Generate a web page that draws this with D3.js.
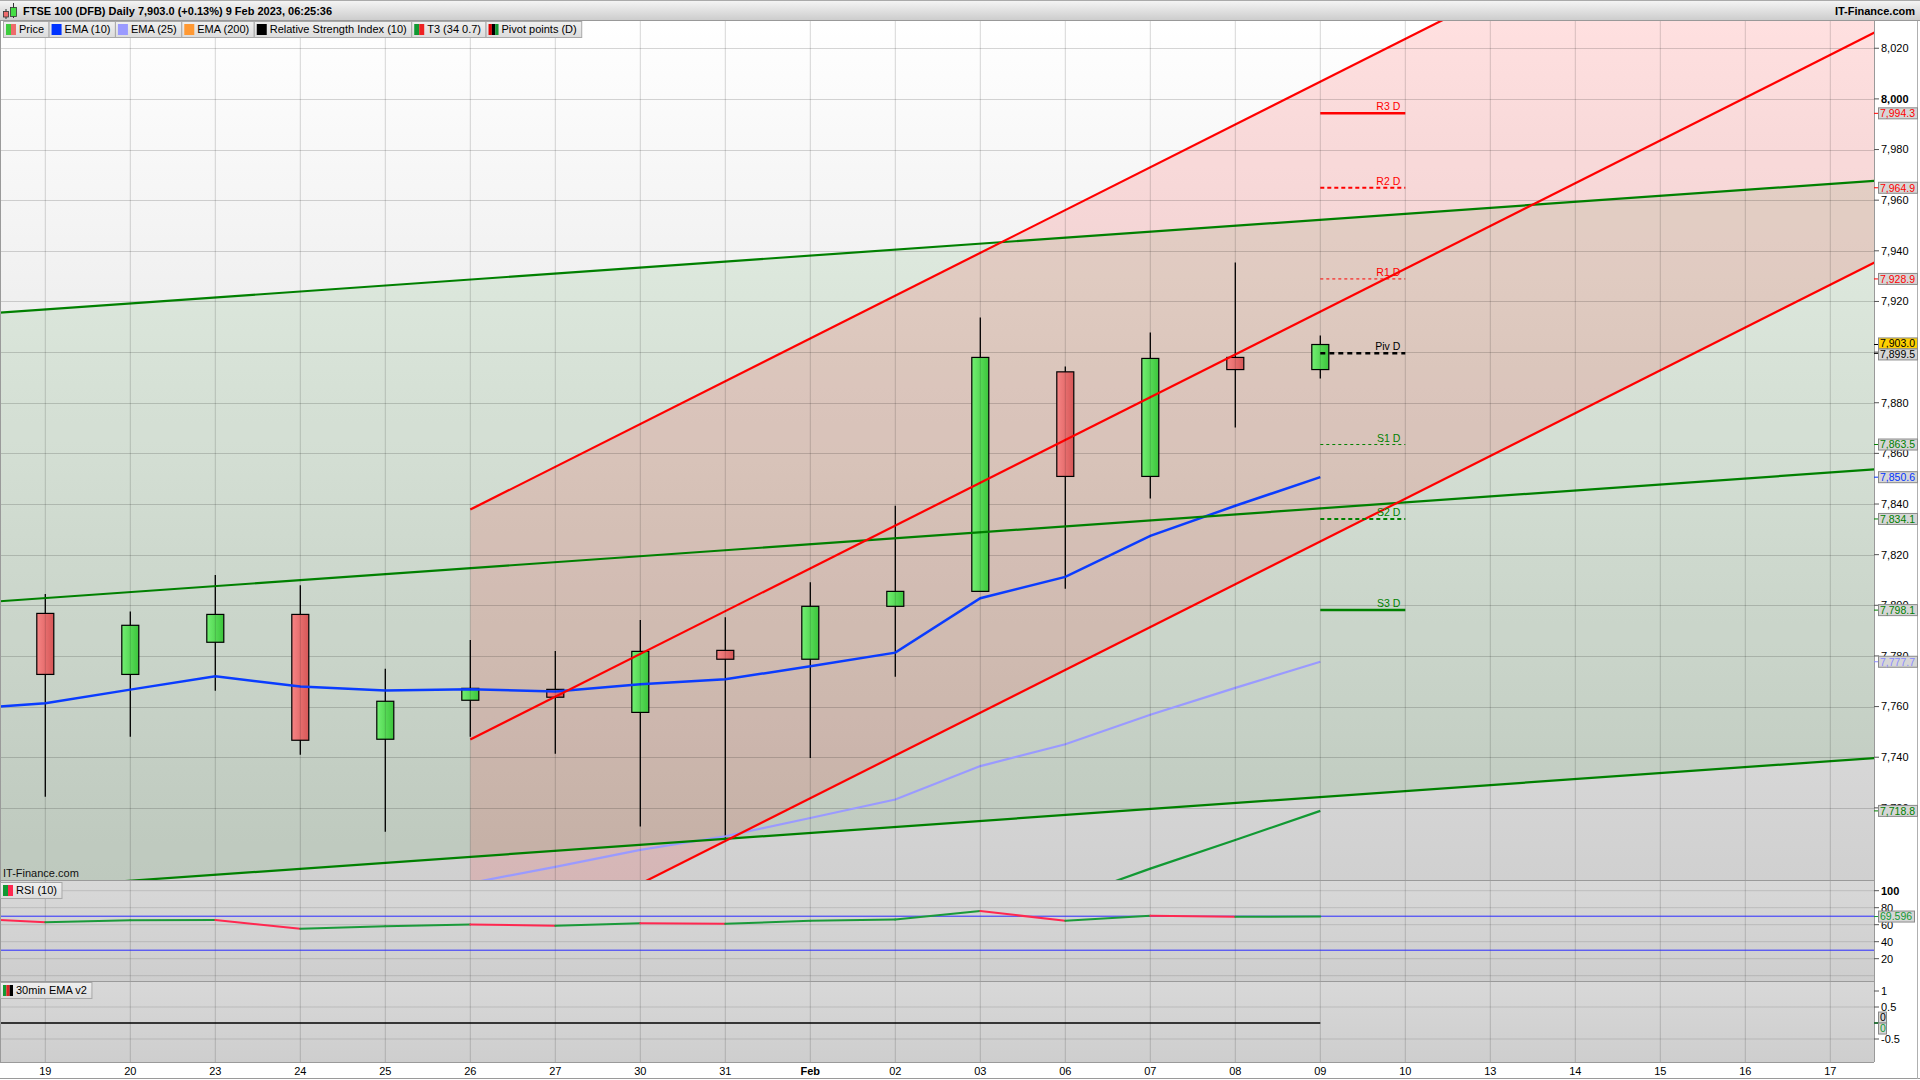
<!DOCTYPE html>
<html><head><meta charset="utf-8">
<script src="https://cdn.jsdelivr.net/npm/d3@7"></script>
<style>
html,body{margin:0;padding:0;background:#fff;overflow:hidden;}
svg{display:block;font-family:"Liberation Sans",Arial,sans-serif;}
</style></head><body>
<svg id="chart" width="1920" height="1080"></svg>
<script>
// ---------------- DATA ----------------
const categories = ["18","19","20","23","24","25","26","27","30","31","Feb","02","03","06","07","08","09","10","13","14","15","16","17"];
const candleDates = ["19","20","23","24","25","26","27","30","31","Feb","02","03","06","07","08","09"];
const opens  = [7796.8,7772.7,7785.4,7796.4,7747.1,7762.5,7766.8,7757.7,7782.2,7778.7,7799.6,7805.5,7892.2,7850.9,7897.9,7893.1];
const highs  = [7804.5,7797.6,7812.0,7807.9,7774.9,7786.3,7782.0,7794.2,7795.3,7809.1,7839.3,7913.7,7894.3,7907.7,7935.4,7906.6];
const lows   = [7724.4,7748.1,7766.3,7741.0,7710.6,7748.1,7741.4,7712.6,7707.4,7739.7,7771.8,7805.5,7806.5,7842.2,7870.2,7889.6];
const closes = [7772.7,7792.1,7796.4,7746.7,7762.1,7767.2,7763.7,7781.8,7778.7,7799.6,7805.5,7897.9,7850.9,7897.5,7893.1,7903.0];

const ema10Dates = ["18","19","20","23","24","25","26","27","30","31","Feb","02","03","06","07","08","09"];
const ema10 = [7758.9,7761.3,7766.7,7772.0,7767.9,7766.4,7766.8,7766.0,7768.8,7770.8,7775.9,7781.3,7802.8,7811.2,7827.4,7839.3,7850.6];
const ema25Dates = ["26","27","30","31","Feb","02","03","06","07","08","09"];
const ema25 = [7690.3,7696.7,7703.4,7708.8,7716.0,7723.3,7736.5,7745.1,7756.8,7767.4,7777.7];
const t3Dates = ["06","07","08","09"];
const t3 = [7684.0,7696.0,7707.3,7718.8];

const rsiDates = ema10Dates;
const rsi = [67.9,62.8,65.2,65.6,55.3,58.1,60.2,58.8,61.6,61.0,64.6,66.0,76.1,64.6,70.4,69.3,69.596];
const emaV2 = [0,0,0,0,0,0,0,0,0,0,0,0,0,0,0,0,0];

// trend channels: [category index, price] endpoints of the centre line, and half-width
const greenMid = [[0,7800.5],[23,7854.8]];
const greenHalf = 114;
const redMid = [[6,7747.0],[23,8034.3]];
const redHalf = 90.8;

const pivotNames  = ["R3 D","R2 D","R1 D","Piv D","S1 D","S2 D","S3 D"];
const pivotValues = [7994.3,7964.9,7928.9,7899.5,7863.5,7834.1,7798.1];

const priceTicks = [8020,8000,7980,7960,7940,7920,7900,7880,7860,7840,7820,7800,7780,7760,7740,7720];
const rsiTicks = [100,80,60,40,20];
const rsiLevels = [70,30];
const v2Ticks = [1,0.5,0,-0.5];

const legendNames = ["Price","EMA (10)","EMA (25)","EMA (200)","Relative Strength Index (10)","T3 (34 0.7)","Pivot points (D)"];
const legendColors = [["#3ecc3e","#ee6b6b"],["#0033ff"],["#9a9aff"],["#ff9933"],["#000000"],["#119933","#ee2222"],["#dd0000","#000000","#119933"]];

// ---------------- LAYOUT ----------------
const plotR = 1874;
const mainT = 21, mainB = 880, rsiT = 881, rsiB = 981, botT = 982, botB = 1062;

const x = d3.scaleLinear().domain([0, categories.length-1]).range([-39.7, 1830.3]);
const xi = d => categories.indexOf(d);
const y = d3.scaleLinear().domain([7720, 8020]).range([807.86, 48.26]);
const yr = d3.scaleLinear().domain([0, 100]).range([975.7, 890.7]);
const yb = d3.scaleLinear().domain([-0.5, 1]).range([1039, 991]);

const svg = d3.select('#chart');
const defs = svg.append('defs');
function grad(id, c1, c2, vertical){
  const g = defs.append('linearGradient').attr('id', id)
    .attr('x1',0).attr('y1',0).attr('x2', vertical?0:1).attr('y2', vertical?1:0);
  g.append('stop').attr('offset','0%').attr('stop-color',c1);
  g.append('stop').attr('offset','100%').attr('stop-color',c2);
}
grad('bgMain','#ffffff','#d0d0d0',true);
grad('bgHead','#f6f6f6','#cdcdcd',true);
grad('bgPanel','#d8d8d8','#cecece',true);
grad('gUp','#72ef72','#3cc43c',false);
grad('gDn','#f68484','#d65757',false);
grad('gLeg','#f0f0f0','#dcdcdc',true);

defs.append('clipPath').attr('id','clipMain').append('rect').attr('x',0).attr('y',mainT).attr('width',plotR).attr('height',mainB-mainT);
defs.append('clipPath').attr('id','clipRsi').append('rect').attr('x',0).attr('y',rsiT).attr('width',plotR).attr('height',rsiB-rsiT);

// backgrounds
svg.append('rect').attr('x',0).attr('y',0).attr('width',1920).attr('height',1080).attr('fill','#ffffff');
svg.append('rect').attr('x',0).attr('y',mainT).attr('width',plotR).attr('height',mainB-mainT).attr('fill','url(#bgMain)');
svg.append('rect').attr('x',0).attr('y',rsiT).attr('width',plotR).attr('height',rsiB-rsiT).attr('fill','url(#bgPanel)');
svg.append('rect').attr('x',0).attr('y',botT).attr('width',plotR).attr('height',botB-botT).attr('fill','url(#bgPanel)');

const main = svg.append('g').attr('clip-path','url(#clipMain)');

// channel fills
function chan(mid, half, off){ return mid.map(([i,v]) => [x(i), y(v+off)]); }
function fillPoly(mid, half){
  const up = chan(mid, half, half), lo = chan(mid, half, -half).reverse();
  return up.concat(lo);
}
main.append('polygon').attr('points', fillPoly(greenMid, greenHalf).join(' ')).attr('fill','rgba(0,128,0,0.085)');
main.append('polygon').attr('points', fillPoly(redMid, redHalf).join(' ')).attr('fill','rgba(255,0,0,0.12)');

// grids
const gridCol = 'rgba(0,0,0,0.16)';
const vgrid = svg.append('g');
categories.forEach((c,i) => {
  if (x(i) < 0) return;
  vgrid.append('line').attr('x1',x(i)).attr('x2',x(i)).attr('y1',mainT).attr('y2',botB)
    .attr('stroke',gridCol).attr('stroke-width',1);
});
main.selectAll('line.hg').data(priceTicks).enter().append('line')
  .attr('x1',0).attr('x2',plotR).attr('y1',d=>Math.round(y(d))+0.5).attr('y2',d=>Math.round(y(d))+0.5)
  .attr('stroke',gridCol);
svg.selectAll('line.rg').data(rsiTicks.concat([0])).enter().append('line')
  .attr('x1',0).attr('x2',plotR).attr('y1',d=>yr(d)).attr('y2',d=>yr(d)).attr('stroke','rgba(0,0,0,0.12)');
svg.selectAll('line.bg').data([0.5,-0.5]).enter().append('line')
  .attr('x1',0).attr('x2',plotR).attr('y1',d=>yb(d)).attr('y2',d=>yb(d)).attr('stroke','rgba(0,0,0,0.12)');

// candles
const candles = candleDates.map((d,k)=>({d, o:opens[k], h:highs[k], l:lows[k], c:closes[k]}));
const cw = 17;
const cg = main.append('g');
cg.selectAll('line.wick').data(candles).enter().append('line')
  .attr('x1',d=>x(xi(d.d))).attr('x2',d=>x(xi(d.d)))
  .attr('y1',d=>y(d.h)).attr('y2',d=>y(d.l)).attr('stroke','#000').attr('stroke-width',1.3);
cg.selectAll('rect.body').data(candles).enter().append('rect')
  .attr('x',d=>x(xi(d.d))-cw/2).attr('width',cw)
  .attr('y',d=>y(Math.max(d.o,d.c))).attr('height',d=>Math.max(1,Math.abs(y(d.o)-y(d.c))))
  .attr('fill',d=>d.c>=d.o?'url(#gUp)':'url(#gDn)').attr('stroke','#000').attr('stroke-width',1.2);

// indicator lines
const line = d3.line().x(d=>x(xi(d[0]))).y(d=>y(d[1]));
main.append('path').attr('d', line(ema25Dates.map((d,k)=>[d,ema25[k]]))).attr('fill','none').attr('stroke','#9a9aff').attr('stroke-width',2.2);
main.append('path').attr('d', line(t3Dates.map((d,k)=>[d,t3[k]]))).attr('fill','none').attr('stroke','#119933').attr('stroke-width',2.2);
main.append('path').attr('d', line(ema10Dates.map((d,k)=>[d,ema10[k]]))).attr('fill','none').attr('stroke','#0a3cff').attr('stroke-width',2.5);

// channel lines
[[greenMid,greenHalf,'#008000'],[redMid,redHalf,'#ff0000']].forEach(([mid,half,col]) => {
  [half,0,-half].forEach(off => {
    const p = chan(mid, half, off);
    main.append('line').attr('x1',p[0][0]).attr('y1',p[0][1]).attr('x2',p[1][0]).attr('y2',p[1][1])
      .attr('stroke',col).attr('stroke-width',2.2);
  });
});

// pivot lines
const pivStyle = [
  ['#ff0000',2.5,null],['#ff0000',2,'4,3'],['#ff0000',1,'3,3'],
  ['#000000',2.5,'5,4'],
  ['#008000',1,'3,3'],['#008000',2,'4,3'],['#008000',2.5,null]];
const px1 = x(xi("09")), px2 = x(xi("10"));
pivotValues.forEach((v,k) => {
  const [col,w,dash] = pivStyle[k];
  main.append('line').attr('x1',px1).attr('x2',px2).attr('y1',y(v)).attr('y2',y(v))
    .attr('stroke',col).attr('stroke-width',w).attr('stroke-dasharray',dash);
  main.append('text').attr('x',px2-5).attr('y',y(v)-3).attr('text-anchor','end')
    .attr('font-size','10.5px').attr('fill',k<3?'#ff0000':(k==3?'#000':'#008000')).text(pivotNames[k]);
});

// RSI
const rg = svg.append('g').attr('clip-path','url(#clipRsi)');
rsiLevels.forEach(l => rg.append('line').attr('x1',0).attr('x2',plotR).attr('y1',yr(l)).attr('y2',yr(l)).attr('stroke','#2b2bff').attr('stroke-width',1));
for (let k=1;k<rsi.length;k++){
  rg.append('line').attr('x1',x(xi(rsiDates[k-1]))).attr('y1',yr(rsi[k-1]))
    .attr('x2',x(xi(rsiDates[k]))).attr('y2',yr(rsi[k]))
    .attr('stroke', rsi[k]>=rsi[k-1] ? '#1a9a3a' : '#ff2850').attr('stroke-width',2).attr('stroke-linecap','round');
}

// 30min EMA v2
svg.append('path').attr('d', d3.line().x((d,k)=>Math.max(0,x(xi(rsiDates[k])))).y(d=>yb(d))(emaV2))
  .attr('fill','none').attr('stroke','#000').attr('stroke-width',1.5);

// panel borders
[mainB, rsiB, botB].forEach(yy => svg.append('line').attr('x1',0).attr('x2',plotR).attr('y1',yy+0.5).attr('y2',yy+0.5).attr('stroke','#9a9a9a'));
svg.append('line').attr('x1',0.5).attr('x2',0.5).attr('y1',mainT).attr('y2',botB).attr('stroke','#9a9a9a');
svg.append('line').attr('x1',plotR+0.5).attr('x2',plotR+0.5).attr('y1',mainT).attr('y2',botB).attr('stroke','#9a9a9a');
svg.append('line').attr('x1',0).attr('x2',1920).attr('y1',1078.5).attr('y2',1078.5).attr('stroke','#9a9a9a');
svg.append('line').attr('x1',1917.5).attr('x2',1917.5).attr('y1',21).attr('y2',1079).attr('stroke','#b0b0b0');

// watermark
svg.append('text').attr('x',3).attr('y',877).attr('font-size','11px').attr('fill','#111').text('IT-Finance.com');

// right axes
const ax = svg.append('g').attr('font-size','11px').attr('fill','#000');
function ticks(vals, sc, fmt, boldFn){
  vals.forEach(v => {
    ax.append('line').attr('x1',plotR).attr('x2',plotR+5).attr('y1',sc(v)).attr('y2',sc(v)).attr('stroke','#555');
    ax.append('text').attr('x',plotR+7).attr('y',sc(v)).attr('dy','0.35em')
      .attr('font-weight', boldFn(v)?'bold':'normal').text(fmt(v));
  });
}
ticks(priceTicks, y, d3.format(','), v => v===8000);
ticks(rsiTicks, yr, d3.format('d'), v => v===100);
ticks(v2Ticks, yb, v => String(v), v => false);

// value boxes (drawn over the tick labels, as in the original)
function boxes(list){
  const bh = 11;
  list.sort((a,b)=>a.y-b.y);
  for (let k=1;k<list.length;k++){
    if (list[k].y - list[k-1].y < bh){
      const m = (list[k].y + list[k-1].y)/2;
      list[k-1].y = m - bh/2; list[k].y = m + bh/2;
    }
  }
  list.forEach(b => {
    ax.append('line').attr('x1',plotR).attr('x2',plotR+5).attr('y1',b.y0).attr('y2',b.y0).attr('stroke',b.col);
    ax.append('rect').attr('x',plotR+4.5).attr('y',b.y-bh/2).attr('width',b.w).attr('height',bh)
      .attr('fill',b.fill||'#d6d6d6').attr('stroke','#8a8a8a').attr('stroke-width',1);
    ax.append('text').attr('x',plotR+6).attr('y',b.y).attr('dy','0.36em').attr('font-size','10.5px')
      .attr('fill',b.col).text(b.t);
  });
}
const f1 = d3.format(',.1f');
const mainBoxes = [
  {v:pivotValues[0],col:'#ff0000'},{v:pivotValues[1],col:'#ff0000'},{v:pivotValues[2],col:'#ff0000'},
  {v:closes[closes.length-1],col:'#000',fill:'#ffd000'},{v:pivotValues[3],col:'#000'},
  {v:pivotValues[4],col:'#008000'},{v:ema10[ema10.length-1],col:'#0033ff'},{v:pivotValues[5],col:'#008000'},
  {v:pivotValues[6],col:'#008000'},{v:ema25[ema25.length-1],col:'#8a8aff'},{v:t3[t3.length-1],col:'#008000'}
].map(b => ({...b, y:y(b.v), y0:y(b.v), t:f1(b.v), w:39}));
boxes(mainBoxes);
boxes([{y:yr(rsi[rsi.length-1]), y0:yr(rsi[rsi.length-1]), col:'#119933', t:String(rsi[rsi.length-1]), w:36}]);
boxes([{y:yb(0),y0:yb(0),col:'#000',t:'0',w:8},{y:yb(emaV2[emaV2.length-1])+0.1,y0:yb(0),col:'#119933',t:String(emaV2[emaV2.length-1]),w:8}]);

// x axis labels
categories.forEach((c,i) => {
  if (x(i) < 0) return;
  svg.append('text').attr('x',x(i)).attr('y',1075).attr('text-anchor','middle').attr('font-size','11px')
    .attr('font-weight', c==='Feb'?'bold':'normal').text(c);
});

// header
svg.append('rect').attr('x',0).attr('y',0).attr('width',1920).attr('height',20).attr('fill','url(#bgHead)');
svg.append('line').attr('x1',0).attr('x2',1920).attr('y1',20.5).attr('y2',20.5).attr('stroke','#999');
svg.append('line').attr('x1',0).attr('x2',1920).attr('y1',0.5).attr('y2',0.5).attr('stroke','#aaa');
// icon
svg.append('line').attr('x1',6).attr('x2',6).attr('y1',9).attr('y2',19).attr('stroke','#333');
svg.append('rect').attr('x',3.5).attr('y',11.5).attr('width',5).attr('height',5.5).attr('fill','#ee6b6b').attr('stroke','#333').attr('stroke-width',0.8);
svg.append('line').attr('x1',13.5).attr('x2',13.5).attr('y1',3).attr('y2',18).attr('stroke','#333');
svg.append('rect').attr('x',10.5).attr('y',7.5).attr('width',6).attr('height',9).attr('fill','#44dd44').attr('stroke','#333').attr('stroke-width',0.8);
svg.append('text').attr('x',23).attr('y',14.5).attr('font-size','11px').attr('font-weight','bold')
  .text('FTSE 100 (DFB) Daily 7,903.0 (+0.13%) 9 Feb 2023, 06:25:36');
svg.append('text').attr('x',1915).attr('y',14.5).attr('text-anchor','end').attr('font-size','11px').attr('font-weight','bold')
  .text('IT-Finance.com');

// legend
function legend(names, colors, x0, y0){
  let xx = x0;
  names.forEach((n,k) => {
    const g = svg.append('g');
    const t = g.append('text').attr('x',xx+16).attr('y',y0+12).attr('font-size','11px').text(n);
    const tw = t.node().getComputedTextLength();
    const w = 16 + tw + 4.5;
    g.insert('rect','text').attr('x',xx+0.5).attr('y',y0+0.5).attr('width',w).attr('height',16)
      .attr('fill','url(#gLeg)').attr('stroke','#a8a8a8');
    const cs = colors[k], sw = 10/cs.length;
    cs.forEach((c,j) => g.insert('rect','text').attr('x',xx+3+j*sw).attr('y',y0+3).attr('width',sw).attr('height',11).attr('fill',c));
    xx += w;
  });
}
legend(legendNames, legendColors, 3, 21);
legend(["RSI (10)"], [["#119933","#ff2850"]], 0, 882);
legend(["30min EMA v2"], [["#119933","#dd2222","#000000"]], 0, 982);
</script>
</body></html>
